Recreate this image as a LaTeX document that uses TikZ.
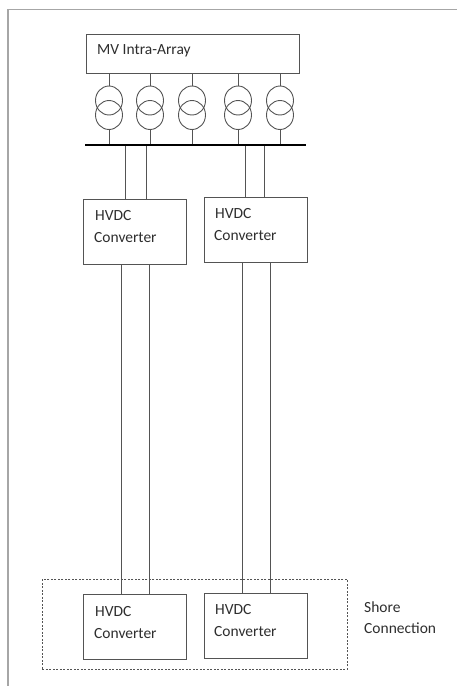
\documentclass[tikz,border=0pt]{standalone}
\usepackage{fontspec}
\usetikzlibrary{shapes.geometric}
\setmainfont{Carlito}
\definecolor{ln}{gray}{0.33}
\definecolor{tx}{gray}{0.18}
\tikzset{
 x=1pt,y=-1pt,
 box/.style={draw=ln,line width=1pt,fill=white,inner sep=0pt,anchor=north west},
 conv/.style={box,minimum width=103pt,minimum height=65pt},
 wire/.style={draw=ln,line width=0.9pt},
 coil/.style={draw=ln,line width=0.9pt,ellipse,minimum width=27pt,minimum height=29pt,inner sep=0pt},
 lab/.style={text=tx,font=\fontsize{15.5}{17}\selectfont,anchor=west,inner sep=0pt},
}
\begin{document}
\begin{tikzpicture}
\useasboundingbox (0,0) rectangle (457,686);
\draw[draw=gray!70,line width=1.2pt] (8,686) -- (8,9.5) -- (457,9.5);
% shore region
\node[draw=ln,line width=0.9pt,dash pattern=on 2pt off 1.5pt,inner sep=0pt,anchor=north west,minimum width=305pt,minimum height=90pt] (shore) at (42,579) {};
% top box
\node[box,minimum width=213pt,minimum height=39pt] (mv) at (86,34) {};
\node[lab] (mvl) at (97,51) {MV Intra-Array};
% bus
\coordinate (busl) at (85,145);
\coordinate (busr) at (306,145);
% transformers
\foreach \n/\x in {a/109,b/150,c/192,d/238,e/280}{
 \node[coil] (\n1) at (\x,100.5) {};
 \node[coil] (\n2) at (\x,115) {};
 \coordinate (\n x) at (\x,0);
 \draw[wire] (\n1.north) -- (\n x |- mv.south);
 \draw[wire] (\n2.south) -- (\n x |- busl);
}
% converters
\node[conv] (c1) at (83,199) {};
\node[conv] (c2) at (204,197) {};
\node[conv] (c3) at (83,594) {};
\node[conv] (c4) at (204,592.5) {};
\node[lab] (c1a) at (95,216) {HVDC};
\node[lab] (c1b) at (94,238) {Converter};
\node[lab] (c2a) at (215,214) {HVDC};
\node[lab] (c2b) at (214,236) {Converter};
\node[lab] (c3a) at (95,612) {HVDC};
\node[lab] (c3b) at (94,634) {Converter};
\node[lab] (c4a) at (215,610) {HVDC};
\node[lab] (c4b) at (214,632) {Converter};
\node[lab] (s1) at (364,607) {Shore};
\node[lab] (s2) at (364,628) {Connection};
% bus to converters
\foreach \x/\c in {125/c1,146/c1,245/c2,264/c2}{
 \coordinate (xc) at (\x,0);
 \draw[wire] (xc |- busl) -- (xc |- \c.north);
}
% between converters
\foreach \x/\a/\b in {121/c1/c3,149/c1/c3,242/c2/c4,270/c2/c4}{
 \coordinate (xc) at (\x,0);
 \draw[wire] (xc |- \a.south) -- (xc |- \b.north);
}
\draw[line width=2.2pt] (busl) -- (busr);
\end{tikzpicture}
\end{document}
